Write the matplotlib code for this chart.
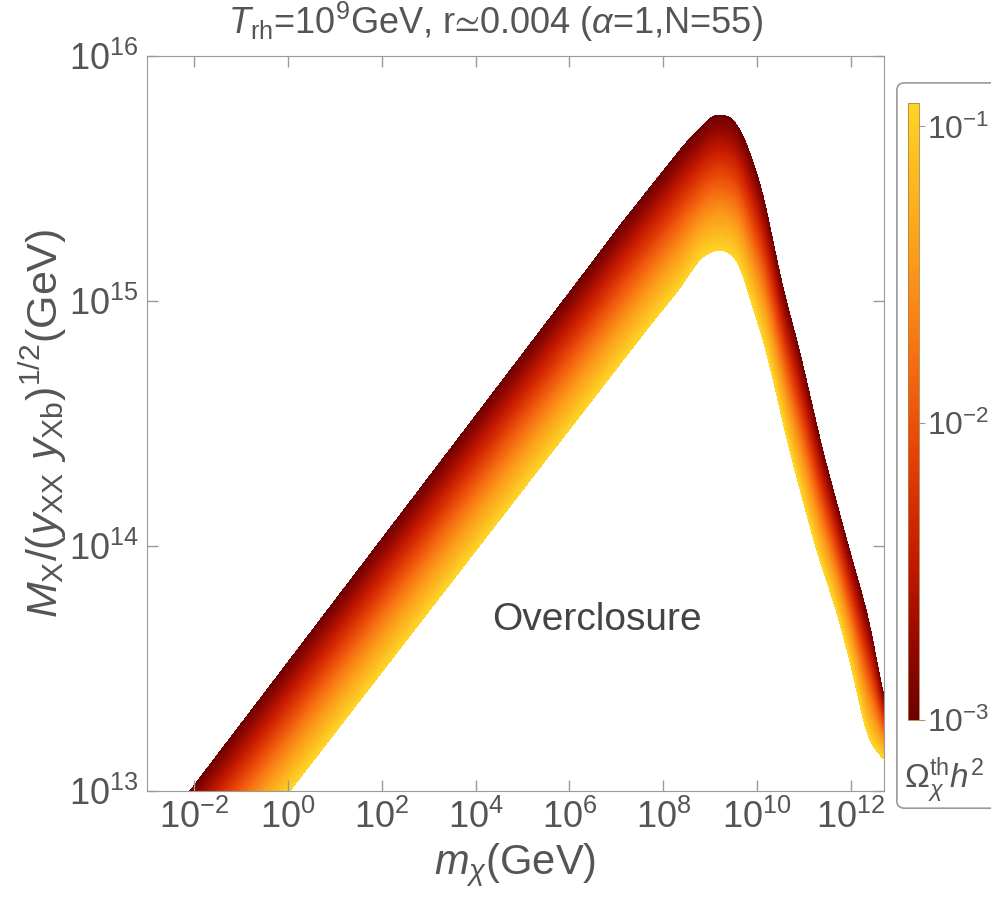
import numpy as np
import matplotlib.pyplot as plt
from matplotlib.colors import LinearSegmentedColormap, LogNorm
from matplotlib.patches import FancyBboxPatch

plt.rcParams['font.family'] = ['Liberation Sans', 'DejaVu Sans']
plt.rcParams['mathtext.fontset'] = 'custom'
plt.rcParams['mathtext.rm'] = 'Liberation Sans'
plt.rcParams['mathtext.it'] = 'Liberation Sans:italic'
plt.rcParams['mathtext.bf'] = 'Liberation Sans:bold'

txt = '#555555'
frame = '#9a9a9a'

# edges of the band (log10 m_chi, log10 M)
# upper edge -> Omega h^2 = 1e-3
logm_top = [-3.0, -2.085, 6.702, 7.064, 8.489, 8.830, 8.979, 9.191,
            9.404, 9.553, 9.766, 10.106, 10.532, 10.894, 11.383, 11.957, 12.383, 12.681, 12.8]
logM_top = [12.77, 13.0, 15.212, 15.306, 15.649, 15.710, 15.751, 15.763,
            15.755, 15.731, 15.649, 15.457, 15.061, 14.804, 14.396, 13.988, 13.702, 13.388, 13.27]
# lower edge -> Omega h^2 = 0.12
logm_bot = [-3.0, 0.043, 7.702, 8.340, 8.766, 8.979, 9.234, 9.468,
            9.617, 9.766, 10.191, 10.681, 11.255, 11.745, 12.106, 12.277, 12.383, 12.681, 12.8]
logM_bot = [12.25, 13.0, 14.898, 15.049, 15.171, 15.200, 15.212, 15.192,
            15.159, 15.061, 14.804, 14.396, 13.988, 13.702, 13.429, 13.265, 13.200, 13.131, 13.10]

omega_min, omega_max = 1e-3, 0.12
cbar_ticks = [1e-3, 1e-2, 1e-1]
xticks = [1e-2, 1e0, 1e2, 1e4, 1e6, 1e8, 1e10, 1e12]
yticks = [1e13, 1e14, 1e15, 1e16]

colors = ['#6b0000', '#960800', '#c21800', '#dc3404', '#ee560c', '#f87a14',
          '#fb9c1a', '#fcb820', '#fed426']
cmap = LinearSegmentedColormap.from_list('solar', colors)


def smooth(y, n=9):
    # light smoothing of the piecewise edge so the band looks drawn, not faceted
    k = np.exp(-0.5 * (np.arange(-3 * n, 3 * n + 1) / n) ** 2)
    k /= k.sum()
    pad = np.pad(y, 3 * n, mode='edge')
    return np.convolve(pad, k, mode='valid')


# relic density field: log-linear in M between the two edges
lm = np.linspace(-3.0, 12.75, 1400)
lM = np.linspace(12.9, 16.05, 1000)
LM_, LMM = np.meshgrid(lm, lM)
top = smooth(np.interp(lm, logm_top, logM_top))
bot = smooth(np.interp(lm, logm_bot, logM_bot))
frac = (top[None, :] - LMM) / (top - bot)[None, :]
log_omega = np.log10(omega_min) + frac * (np.log10(omega_max) - np.log10(omega_min))

fig = plt.figure(figsize=(9.91, 9.01), dpi=100)
ax = fig.add_axes([0.1483, 0.1221, 0.7437, 0.8157])

levels = np.logspace(np.log10(omega_min), np.log10(omega_max), 90)
norm = LogNorm(omega_min, omega_max)
cs = ax.contourf(10**LM_, 10**LMM, 10**log_omega, levels=levels, cmap=cmap, norm=norm)

ax.set_xscale('log')
ax.set_yscale('log')
ax.set_xlim(1e-3, 10**12.7)
ax.set_ylim(1e13, 1e16)
ax.set_xticks(xticks)
ax.set_yticks(yticks)
ax.minorticks_off()
ax.tick_params(direction='in', length=8, width=1, color=frame, labelsize=26,
               labelcolor=txt, top=True, right=True, pad=6)
for s in ax.spines.values():
    s.set_color(frame)

ax.set_xlabel(r'$m_\chi$(GeV)', fontsize=30, color=txt, labelpad=4)
ax.set_ylabel(r'$M_{\rm X}/(y_{\rm XX}\ y_{\rm Xb})^{1/2}$(GeV)', fontsize=31, color=txt,
              labelpad=0)
fig.text(0.5, 0.976, r'$T_{\rm rh}$=10$^9$GeV, r$≃$0.004 ($\alpha$=1,N=55)',
         ha='center', va='center', fontsize=26, color=txt)
ax.text(0.6106, 0.2327, 'Overclosure', transform=ax.transAxes, ha='center', va='center',
        fontsize=28, color='#444444')

# legend box with colour bar
box = FancyBboxPatch((0.905, 0.103), 0.2, 0.805, transform=fig.transFigure,
                     boxstyle='round,pad=0,rounding_size=0.008', fc='white', ec=frame,
                     lw=1.2, zorder=-1)
fig.patches.append(box)
cax = fig.add_axes([0.9163, 0.2009, 0.0111, 0.6848])
cb = fig.colorbar(plt.cm.ScalarMappable(norm=norm, cmap=cmap), cax=cax)
cb.set_ticks(cbar_ticks)
cb.minorticks_off()
cb.outline.set_edgecolor('#b08040')
cb.outline.set_linewidth(0.6)
cax.tick_params(length=4, color=frame, labelsize=23, labelcolor=txt, pad=2)
fig.text(0.953, 0.134, r'$\Omega_\chi^{\rm th}h^2$', ha='center', va='center',
         fontsize=24, color=txt)

fig.savefig('out.png', dpi=100)
